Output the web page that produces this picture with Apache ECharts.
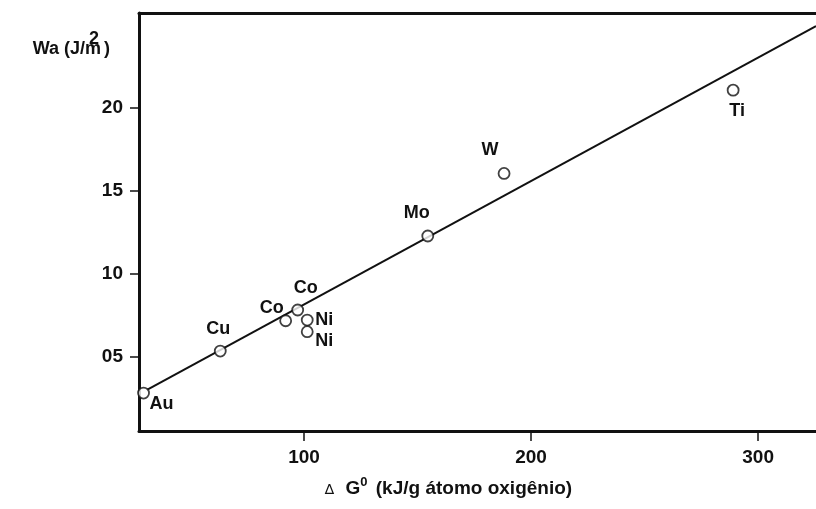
<!DOCTYPE html>
<html>
<head>
<meta charset="utf-8">
<script src="https://cdn.jsdelivr.net/npm/echarts@6/dist/echarts.min.js"></script>
<style>
html,body{margin:0;padding:0;background:#fff;}
#chart{width:816px;height:509px;}
</style>
</head>
<body>
<div id="chart"></div>
<script>
// ---- data ----
const metals = ['Au', 'Cu', 'Co', 'Co', 'Ni', 'Ni', 'Mo', 'W', 'Ti'];
const deltaG = [29.3, 63.1, 91.9, 97.2, 101.4, 101.4, 154.5, 188.1, 289.0];
const workAdhesion = [2.79, 5.33, 7.16, 7.81, 7.20, 6.50, 12.28, 16.06, 21.09];
const fitLineX = [30.8, 325.5];
const fitLineY = [2.98, 24.96];
const xTickValues = [100, 200, 300];
const yTickValues = [5, 10, 15, 20];
const yTickLabels = ['05', '10', '15', '20'];

// ---- layout (label offsets in px, not data) ----
const labelOffsets = [[18, 11], [-2, -22], [-14, -13], [8, -22], [17, 0], [17, 9], [-11, -23], [-14, -23], [4, 21]];

const FONT = 'Liberation Sans';
const INK = '#111111';

const chart = echarts.init(document.getElementById('chart'), null, {renderer: 'canvas'});

const points = deltaG.map((x, i) => ({
  value: [x, workAdhesion[i]],
  name: metals[i],
  label: {offset: labelOffsets[i]}
}));
const fitData = fitLineX.map((x, i) => [x, fitLineY[i]]);

const option = {
  backgroundColor: '#fff',
  animation: false,
  grid: {left: 139, right: 0, top: 13, bottom: 78, containLabel: false},
  xAxis: [{
    type: 'value',
    position: 'bottom',
    min: 27.3,
    max: 325.5,
    name: '{d|∆} G{sup|0} (kJ/g átomo oxigênio)',
    nameLocation: 'middle',
    nameGap: 45,
    nameTextStyle: {
      fontFamily: FONT, fontWeight: 'bold', fontSize: 19, color: INK,
      padding: [0, 58, 0, 0],
      rich: {
        d: {fontFamily: 'DejaVu Sans', fontWeight: 'normal', fontSize: 14, color: INK, padding: [4, 6, 0, 0]},
        sup: {fontFamily: FONT, fontWeight: 'bold', fontSize: 13, color: INK, verticalAlign: 'top', padding: [0, 3, 12, 0]}
      }
    },
    axisLine: {show: true, onZero: false, lineStyle: {color: INK, width: 3}},
    axisTick: {show: true, customValues: xTickValues, length: 10, inside: false, lineStyle: {color: INK, width: 1.5}},
    axisLabel: {
      customValues: xTickValues, margin: 17,
      fontFamily: FONT, fontWeight: 'bold', fontSize: 19, color: INK
    },
    splitLine: {show: false}
  }, {
    type: 'value',
    position: 'top',
    min: 27.3,
    max: 325.5,
    axisLine: {show: true, onZero: false, lineStyle: {color: INK, width: 3}},
    axisTick: {show: false},
    axisLabel: {show: false},
    splitLine: {show: false}
  }],
  yAxis: {
    type: 'value',
    min: 0.5,
    max: 25.75,
    name: 'Wa (J/m{sup|2} )',
    nameLocation: 'end',
    nameGap: -36,
    nameTextStyle: {
      fontFamily: FONT, fontWeight: 'bold', fontSize: 18, color: INK,
      align: 'right', verticalAlign: 'middle',
      padding: [0, 29, 0, 0],
      rich: {
        sup: {fontFamily: FONT, fontWeight: 'bold', fontSize: 18, color: INK, padding: [0, 0, 20, -12]}
      }
    },
    axisLine: {show: true, onZero: false, lineStyle: {color: INK, width: 3}},
    axisTick: {show: true, customValues: yTickValues, length: 9, inside: false, lineStyle: {color: INK, width: 1.5}},
    axisLabel: {
      customValues: yTickValues, margin: 16,
      fontFamily: FONT, fontWeight: 'bold', fontSize: 19, color: INK,
      formatter: v => yTickLabels[yTickValues.indexOf(v)] ?? ''
    },
    splitLine: {show: false}
  },
  series: [{
    type: 'line',
    data: fitData,
    showSymbol: false,
    symbol: 'none',
    lineStyle: {color: INK, width: 2},
    z: 1,
    silent: true
  }, {
    type: 'scatter',
    data: points,
    symbol: 'circle',
    symbolSize: 11,
    itemStyle: {color: '#fff', borderColor: INK, borderWidth: 1.8},
    label: {
      show: true,
      position: 'inside',
      formatter: p => p.name,
      fontFamily: FONT, fontWeight: 'bold', fontSize: 18, color: INK,
      textBorderWidth: 0, opacity: 1
    },
    z: 3
  }]
};
chart.setOption(option);
</script>
</body>
</html>
